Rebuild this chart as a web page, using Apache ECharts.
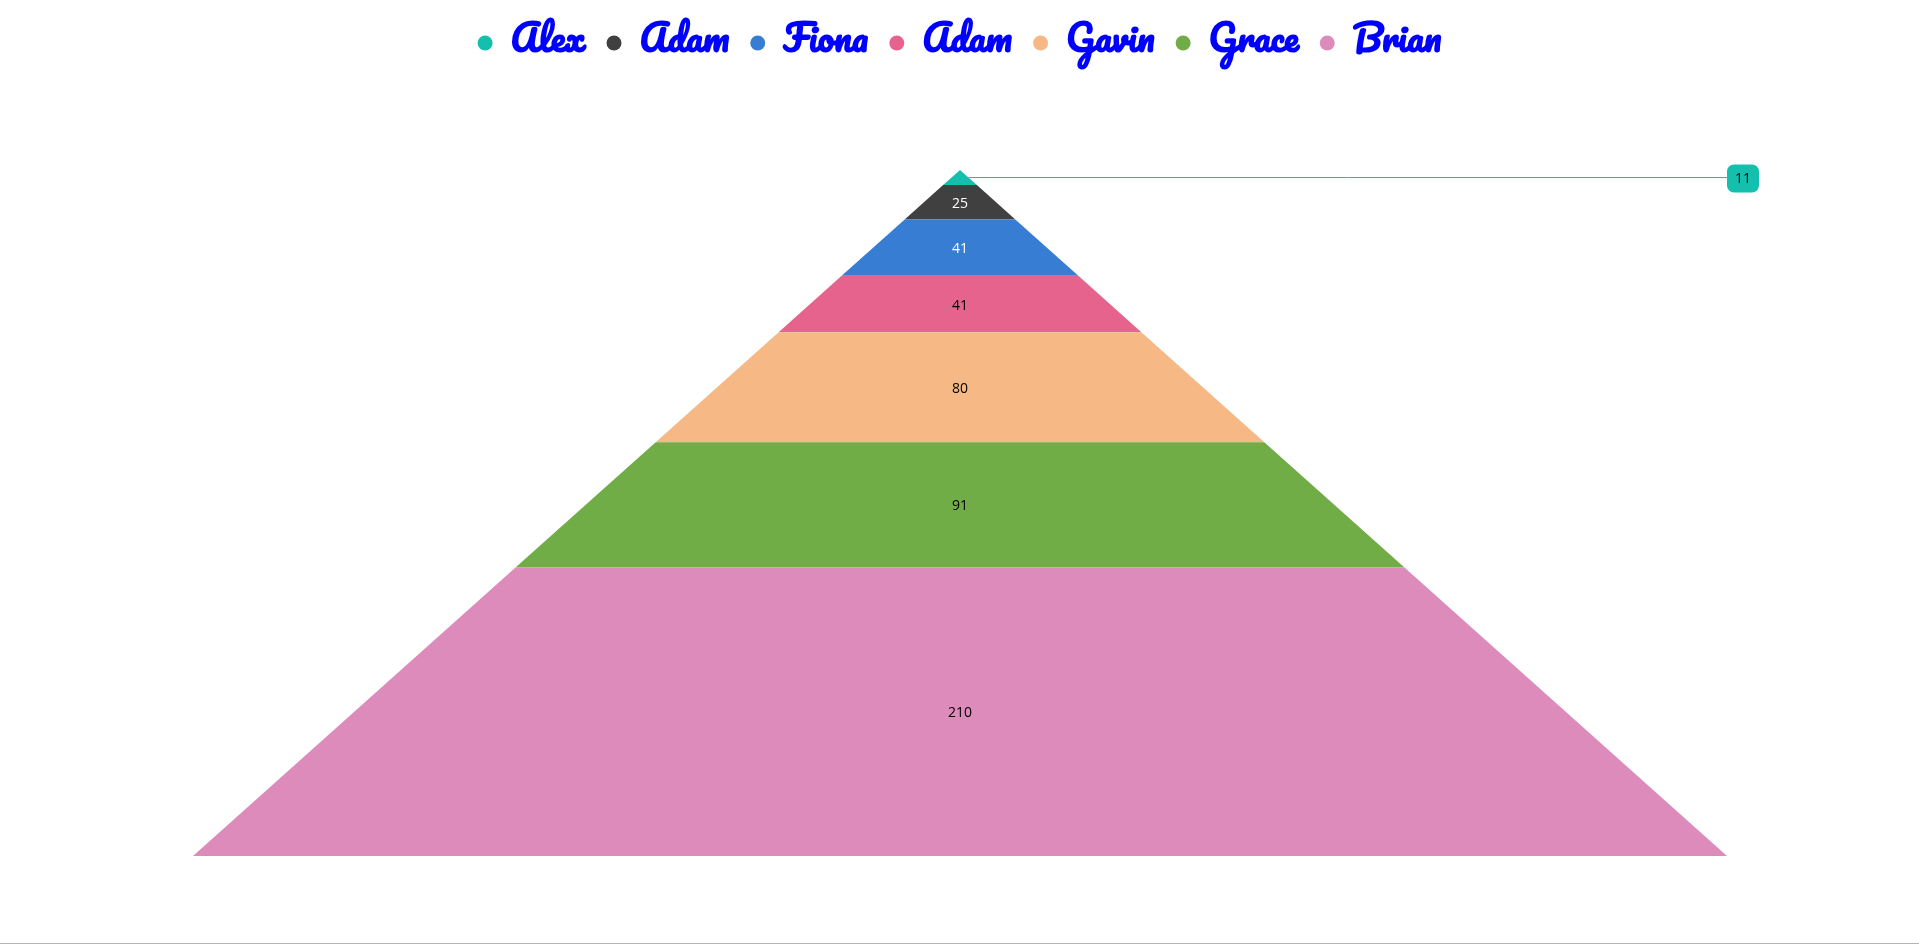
<!DOCTYPE html>
<html>
<head>
<meta charset="utf-8">
<script src="https://cdn.jsdelivr.net/npm/echarts@6/dist/echarts.min.js"></script>
<style>
html,body{margin:0;padding:0;background:#fff;overflow:hidden;}
#main{width:1919px;height:943px;border-bottom:1px solid #b4b4b4;}
</style>
</head>
<body>
<div id="main"></div>
<script>
const names = ['Alex', 'Adam', 'Fiona', 'Adam\u200B', 'Gavin', 'Grace', 'Brian'];
const values = [11, 25, 41, 41, 80, 91, 210];
const colors = ['#14bfad', '#404040', '#377dd3', '#e5638c', '#f6b884', '#71ad46', '#dc8bbb'];

const total = values.reduce((a, b) => a + b, 0);
const starts = [];
values.reduce((acc, v, i) => { starts[i] = acc; return acc + v; }, 0);

function textColorFor(hex) {
  const r = parseInt(hex.slice(1, 3), 16), g = parseInt(hex.slice(3, 5), 16), b = parseInt(hex.slice(5, 7), 16);
  const l = 0.299 * r + 0.587 * g + 0.114 * b;
  return l < 140 ? '#fff' : '#000';
}

const chart = echarts.init(document.getElementById('main'), null, { renderer: 'canvas' });

const labelFont = 'Open Sans, sans-serif';
const series = values.map((v, i) => ({
  type: 'custom',
  name: names[i],
  color: colors[i],
  itemStyle: { color: colors[i] },
  data: [[0, v]],
  silent: true,
  renderItem: function (params, api) {
    const s = starts[i], e = s + values[i];
    const pts = [[-s / total, s], [s / total, s], [e / total, e], [-e / total, e]].map(p => api.coord(p));
    const mid = (s + e) / 2;
    const children = [{ type: 'polygon', shape: { points: pts }, style: { fill: colors[i] } }];
    if (i === 0) {
      const edge = api.coord([mid / total, mid]);
      const end = api.coord([1, mid]);
      children.push({ type: 'line', shape: { x1: edge[0], y1: edge[1], x2: end[0], y2: end[1] }, style: { stroke: colors[i], lineWidth: 1 } });
      children.push({
        type: 'text', x: end[0], y: end[1] + 1,
        style: {
          text: String(values[i]), fill: '#000', fontSize: 14, fontFamily: labelFont,
          align: 'left', verticalAlign: 'middle', backgroundColor: colors[i],
          borderRadius: 7, padding: [7, 8, 7, 8]
        }
      });
    } else {
      const c = api.coord([0, mid]);
      children.push({
        type: 'text', x: c[0], y: c[1] + 1.5,
        style: {
          text: String(values[i]), fill: textColorFor(colors[i]), fontSize: 14,
          fontFamily: labelFont, align: 'center', verticalAlign: 'middle'
        }
      });
    }
    return { type: 'group', children: children };
  }
}));

chart.setOption({
  animation: false,
  legend: {
    top: 20,
    left: 'center',
    icon: 'circle',
    itemWidth: 25,
    itemHeight: 15,
    itemGap: 21,
    data: names,
    textStyle: {
      color: '#0000ff', fontSize: 36, fontWeight: 'bold',
      fontFamily: 'Pacifico, "DejaVu Serif", serif',
      padding: [0, 0, 0, 8]
    }
  },
  grid: { left: 193, right: 192, top: 170, bottom: 87 },
  xAxis: { type: 'value', min: -1, max: 1, show: false },
  yAxis: { type: 'value', min: 0, max: total, inverse: true, show: false },
  series: series
});
</script>
</body>
</html>
